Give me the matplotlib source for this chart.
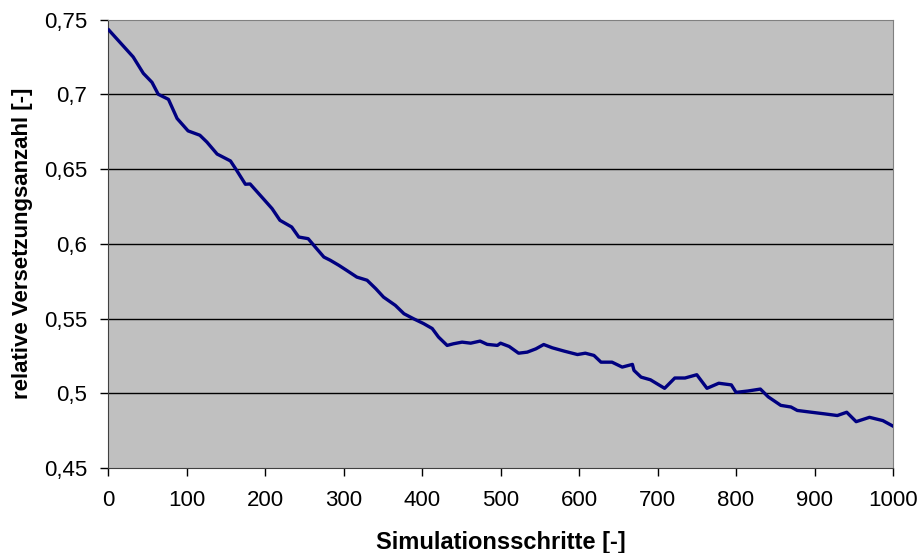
import numpy as np
import matplotlib.pyplot as plt
from matplotlib.ticker import FuncFormatter

plt.rcParams['font.family'] = ['Liberation Sans', 'DejaVu Sans']

schritte = [1, 32, 45, 56, 64, 77, 88, 102, 117, 126, 139, 156, 164, 175, 181,
            198, 209, 219, 234, 243, 255, 264, 275, 283, 294, 304, 317, 330,
            341, 351, 366, 377, 389, 402, 413, 421, 432, 440, 451, 462, 474,
            483, 496, 500, 511, 523, 534, 545, 555, 566, 581, 598, 608, 619,
            628, 642, 655, 668, 670, 679, 691, 709, 722, 735, 750, 763, 778,
            794, 800, 815, 831, 841, 857, 870, 878, 896, 913, 929, 941, 953,
            970, 987, 1000]
versetzung = [0.743, 0.725, 0.714, 0.708, 0.700, 0.6966, 0.6838, 0.6755,
              0.6726, 0.668, 0.660, 0.6554, 0.649, 0.6398, 0.640, 0.630,
              0.6235, 0.6157, 0.6112, 0.6045, 0.6034, 0.5978, 0.5911, 0.589,
              0.5856, 0.5822, 0.5777, 0.5756, 0.570, 0.5643, 0.5588, 0.5532,
              0.5499, 0.5466, 0.5433, 0.5376, 0.532, 0.5331, 0.5342, 0.5335,
              0.5349, 0.5327, 0.532, 0.5335, 0.5313, 0.5268, 0.5275, 0.5297,
              0.5326, 0.5304, 0.5282, 0.5259, 0.5268, 0.5253, 0.5208, 0.5208,
              0.5175, 0.5193, 0.5153, 0.5108, 0.509, 0.5033, 0.5102, 0.5102,
              0.5124, 0.5033, 0.5067, 0.5056, 0.5006, 0.5015, 0.5028, 0.4976,
              0.4919, 0.4908, 0.4885, 0.4873, 0.4862, 0.4851, 0.4873, 0.481,
              0.4839, 0.4817, 0.478]

x_ticks = np.arange(0, 1001, 100)
y_ticks = [0.45, 0.5, 0.55, 0.6, 0.65, 0.7, 0.75]

fig = plt.figure(figsize=(9.2, 5.53), dpi=100)
ax = fig.add_axes([0.1174, 0.1537, 0.8533, 0.811])
ax.set_facecolor('#C0C0C0')

for yv in y_ticks[1:-1]:
    ax.axhline(yv, color='black', lw=1.0, zorder=1)

ax.plot(schritte, versetzung, color='#000080', lw=2.4, zorder=3)

ax.set_xlim(0, 1000)
ax.set_ylim(0.45, 0.75)
ax.set_xticks(x_ticks)
ax.set_yticks(y_ticks)
ax.yaxis.set_major_formatter(FuncFormatter(lambda v, p: ('%g' % v).replace('.', ',')))

ax.spines['top'].set_color('#808080')
ax.spines['right'].set_color('#808080')
ax.spines['left'].set_color('#404040')
ax.spines['bottom'].set_color('#404040')
ax.tick_params(direction='out', length=6, width=1, color='black', labelsize=16)
ax.tick_params(axis='x', pad=10)
ax.tick_params(axis='y', pad=9)

ax.set_xlabel('Simulationsschritte [-]', fontsize=17, fontweight='bold', va='top')
ax.xaxis.set_label_coords(0.5, -0.141)
ax.set_ylabel('relative Versetzungsanzahl [-]', fontsize=16, fontweight='bold', labelpad=8)

fig.savefig('out.png', dpi=100)
